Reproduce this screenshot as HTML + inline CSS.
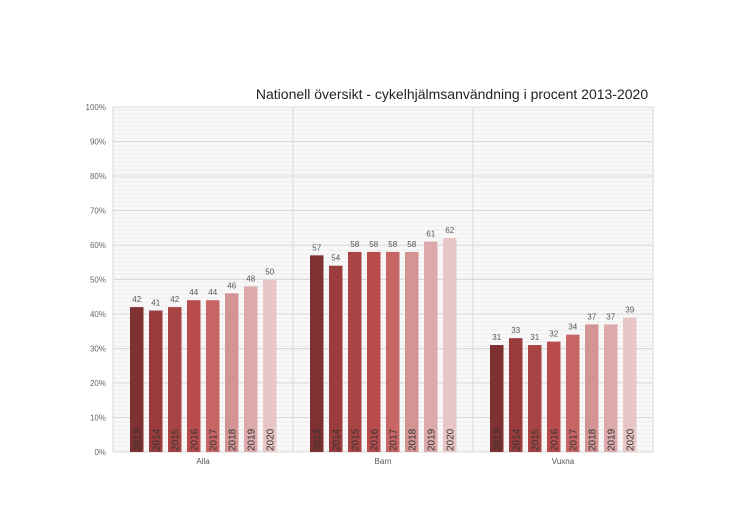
<!DOCTYPE html>
<html><head><meta charset="utf-8">
<style>
body{margin:0;background:#fff;width:746px;height:527px;overflow:hidden;font-family:"Liberation Sans",sans-serif;}
</style></head>
<body>
<svg id="chart" width="746" height="527" xmlns="http://www.w3.org/2000/svg">
<defs>
<pattern id="zig" width="8" height="4" patternUnits="userSpaceOnUse">
<rect width="8" height="4" fill="#fafafa"/>
<path d="M0 3 L2 1 L4 3 L6 1 L8 3" fill="none" stroke="#e6e6e6" stroke-width="0.6"/>
</pattern>
</defs>
<text x="452" y="99" text-anchor="middle" font-size="14" fill="#222">Nationell översikt - cykelhjälmsanvändning i procent 2013-2020</text>
<g id="plot"></g>
</svg>
<script>
const groups = ["Alla","Barn","Vuxna"];
const years = ["2013","2014","2015","2016","2017","2018","2019","2020"];
const alla = [42,41,42,44,44,46,48,50];
const barn = [57,54,58,58,58,58,61,62];
const vuxna = [31,33,31,32,34,37,37,39];
const yTicks = [0,10,20,30,40,50,60,70,80,90,100];
const colors = ["#7f3030","#9a3c3c","#a94444","#b84c4c","#c86666","#d39494","#dcaaaa","#e8c6c6"];
const series = [alla,barn,vuxna];

const NS="http://www.w3.org/2000/svg";
const g=document.getElementById("plot");
const L=113,R=653,T=107,B=452;
const y=v=>B-(v/100)*(B-T);
const gw=(R-L)/groups.length;
const x=(gi,bi)=>L+gi*gw+17+bi*19;
function mk(t,a){const e=document.createElementNS(NS,t);for(const k in a)e.setAttribute(k,a[k]);g.appendChild(e);return e;}

const bg=mk("rect",{x:L,y:T,width:R-L,height:B-T,fill:"url(#zig)"});



yTicks.forEach(t=>{
  const ln=mk("line",{x1:L,x2:R,y1:y(t),y2:y(t),stroke:"#d9d9d9","stroke-width":1});
  
  
  const tx=mk("text",{x:L-7,y:y(t)+3,"text-anchor":"end","font-size":"8","fill":"#666"});
  tx.textContent=t+"%";
  
  
});
for(let i=0;i<=groups.length;i++){
  const ln=mk("line",{x1:L+i*gw,x2:L+i*gw,y1:T,y2:B,stroke:"#d9d9d9","stroke-width":1});
  
  
}
groups.forEach((gn,gi)=>{
  series[gi].forEach((v,bi)=>{
    const bx=x(gi,bi);
    const r=mk("rect",{x:bx,y:y(v),width:13.5,height:B-y(v),fill:colors[bi]});
    
    
    const vl=mk("text",{x:bx+6.75,y:y(v)-5,"text-anchor":"middle","font-size":"8","fill":"#555"});
    vl.textContent=v;
    
    
    const yl=mk("text",{x:0,y:0,"font-size":"10","fill":"#333",transform:`translate(${bx+10.5},${B-1}) rotate(-90)`});
    yl.textContent=years[bi];
    
    
  });
  const cl=mk("text",{x:L+gi*gw+gw/2,y:B+12,"text-anchor":"middle","font-size":"8","fill":"#555"});
  cl.textContent=gn;
  
  
});
</script>
</body></html>
